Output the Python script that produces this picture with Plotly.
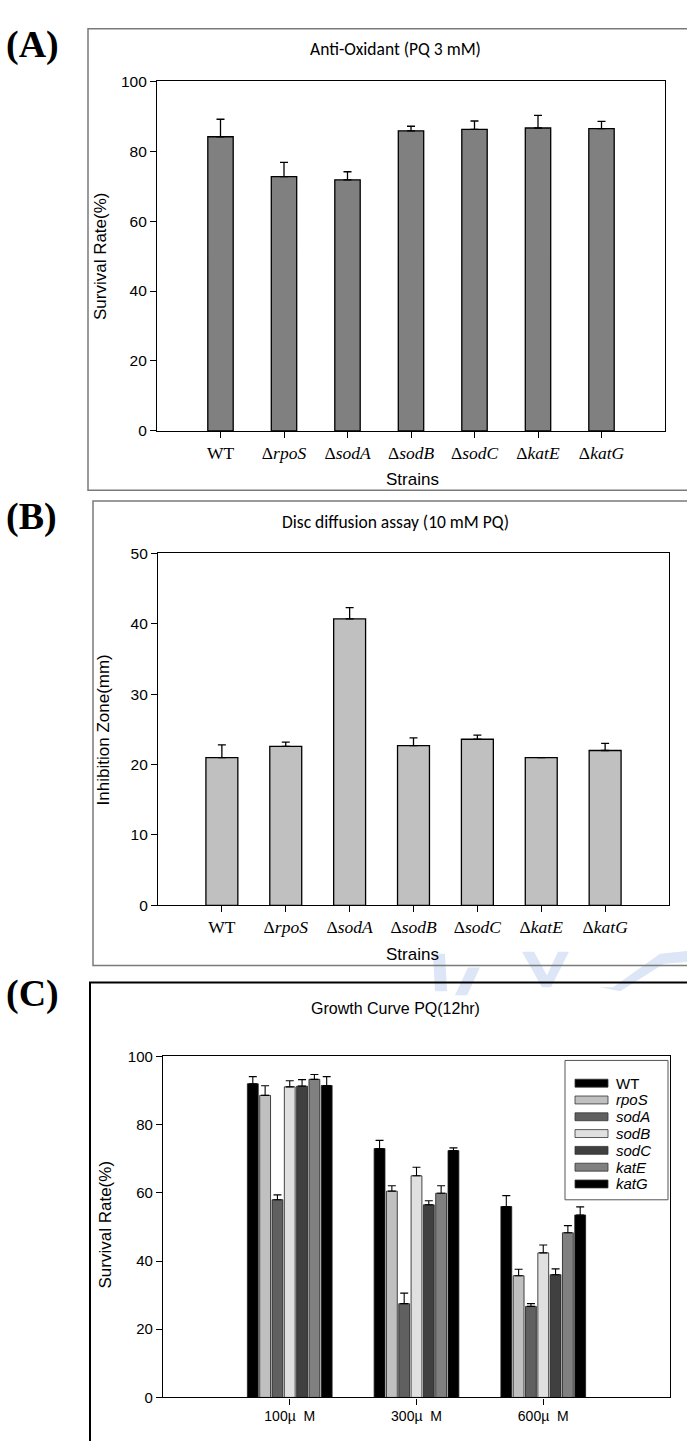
import plotly.graph_objects as go

W, H = 687, 1441

# ---- data ----
strains = ["WT", "rpoS", "sodA", "sodB", "sodC", "katE", "katG"]
strain_ticks = ["WT", "Δ<i>rpoS</i>", "Δ<i>sodA</i>", "Δ<i>sodB</i>",
                "Δ<i>sodC</i>", "Δ<i>katE</i>", "Δ<i>katG</i>"]

survival_pq3 = [84.1, 72.7, 71.8, 85.8, 86.2, 86.6, 86.4]
survival_pq3_err = [5.0, 4.1, 2.3, 1.3, 2.4, 3.6, 2.1]

zone_mm = [21.0, 22.6, 40.7, 22.7, 23.6, 21.0, 22.0]
zone_mm_err = [1.8, 0.6, 1.6, 1.1, 0.6, 0.0, 1.0]

doses = ["100µ\u00a0\u00a0M", "300µ\u00a0\u00a0M", "600µ\u00a0\u00a0M"]
growth_names = ["WT", "rpoS", "sodA", "sodB", "sodC", "katE", "katG"]
growth_mean = {
    "WT":   [92.0, 73.0, 56.0],
    "rpoS": [88.6, 60.5, 35.7],
    "sodA": [58.0, 27.5, 26.7],
    "sodB": [91.1, 65.0, 42.4],
    "sodC": [91.3, 56.5, 36.0],
    "katE": [93.3, 59.9, 48.3],
    "katG": [91.5, 72.4, 53.5],
}
growth_err = {
    "WT":   [2.1, 2.4, 3.2],
    "rpoS": [2.8, 1.6, 1.9],
    "sodA": [1.4, 3.1, 0.8],
    "sodB": [1.8, 2.5, 2.3],
    "sodC": [1.9, 1.2, 1.7],
    "katE": [1.4, 2.2, 2.1],
    "katG": [2.6, 0.8, 2.4],
}
growth_colors = ["#000000", "#c0c0c0", "#606060", "#e0e0e0",
                 "#404040", "#808080", "#000000"]


def px(x):
    return x / W


def py(y):
    return 1 - y / H


ARIAL = "Liberation Sans, Arial"
TIMES = "Liberation Serif, Times New Roman"
TITLE = "Carlito, Lato"

fig = go.Figure()

# (A) survival under 3 mM paraquat
fig.add_trace(go.Bar(
    x=strains, y=survival_pq3, xaxis="x", yaxis="y", width=0.4,
    marker=dict(color="#808080", line=dict(color="#000000", width=1.3)),
    error_y=dict(type="data", array=survival_pq3_err, arrayminus=[0] * 7,
                 symmetric=False, color="#000000", thickness=1.3, width=4),
    showlegend=False,
))

# (B) disc diffusion inhibition zones
fig.add_trace(go.Bar(
    x=strains, y=zone_mm, xaxis="x2", yaxis="y2", width=0.5,
    marker=dict(color="#c0c0c0", line=dict(color="#000000", width=1.3)),
    error_y=dict(type="data", array=zone_mm_err, arrayminus=[0] * 7,
                 symmetric=False, color="#000000", thickness=1.3, width=4),
    showlegend=False,
))

# (C) grouped growth-curve survival
for name, col in zip(growth_names, growth_colors):
    fig.add_trace(go.Bar(
        x=doses, y=growth_mean[name], name=name, xaxis="x3", yaxis="y3",
        marker=dict(color=col, line=dict(color="#1a1a1a", width=0.8)),
        error_y=dict(type="data", array=growth_err[name], arrayminus=[0] * 3,
                     symmetric=False, color="#000000", thickness=1.1, width=4),
        showlegend=False,
    ))

axis_common = dict(showline=True, linecolor="#000000", linewidth=1.2,
                   mirror=True, showgrid=False, zeroline=False,
                   ticks="outside", tickcolor="#000000", ticklen=6,
                   tickwidth=1.2)

fig.update_layout(
    width=W, height=H,
    margin=dict(l=0, r=0, t=0, b=0),
    paper_bgcolor="white", plot_bgcolor="white",
    barmode="group", bargap=0.32, bargroupgap=0.12,
    xaxis=dict(domain=[px(157), px(665)], anchor="y", range=[-1, 7.0],
               tickvals=strains, ticktext=strain_ticks,
               tickfont=dict(family=TIMES, size=17.5, color="#000"),
               **axis_common),
    yaxis=dict(domain=[py(427), py(73)], anchor="x", range=[0, 100],
               tickvals=[0, 20, 40, 60, 80, 100],
               tickfont=dict(family=ARIAL, size=15.5, color="#000"),
               **axis_common),
    xaxis2=dict(domain=[px(158), px(669)], anchor="y2", range=[-1, 7.0],
                tickvals=strains, ticktext=strain_ticks,
                tickfont=dict(family=TIMES, size=17.5, color="#000"),
                **axis_common),
    yaxis2=dict(domain=[py(907), py(551)], anchor="x2", range=[0, 50],
                tickvals=[0, 10, 20, 30, 40, 50],
                tickfont=dict(family=ARIAL, size=15.5, color="#000"),
                **axis_common),
    xaxis3=dict(domain=[px(163), px(670)], anchor="y3", range=[-1, 3.0],
                tickfont=dict(family=ARIAL, size=14, color="#000"),
                **axis_common),
    yaxis3=dict(domain=[py(1405), py(1060)], anchor="x3", range=[0, 100],
                tickvals=[0, 20, 40, 60, 80, 100],
                tickfont=dict(family=ARIAL, size=15, color="#000"),
                **axis_common),
)

shapes = []

# faint background watermark strokes between panels B and C
wm = "#dce6f6"
watermark_paths = [
    [(433, 956), (445, 956), (447, 994), (435, 994)],
    [(455, 998), (467, 998), (480, 970), (468, 970)],
    [(522, 954), (534, 954), (547, 978), (558, 954), (569, 954), (551, 990), (542, 990)],
    [(600, 990), (613, 990), (660, 956), (690, 953), (690, 964), (664, 966), (620, 994)],
]
for pts in watermark_paths:
    d = "M " + " L ".join("%.4f,%.4f" % (px(x), py(y)) for x, y in pts) + " Z"
    shapes.append(dict(type="path", xref="paper", yref="paper", path=d,
                       fillcolor=wm, line=dict(width=0), layer="below"))

# panel frames
shapes.append(dict(type="rect", xref="paper", yref="paper",
                   x0=px(88), x1=px(700), y0=py(487), y1=py(20),
                   line=dict(color="#7a7a7a", width=1.5)))
shapes.append(dict(type="rect", xref="paper", yref="paper",
                   x0=px(93), x1=px(700), y0=py(968), y1=py(498),
                   line=dict(color="#7a7a7a", width=1.5)))
shapes.append(dict(type="rect", xref="paper", yref="paper",
                   x0=px(90), x1=px(700), y0=py(1460), y1=py(985),
                   line=dict(color="#000000", width=2)))

# legend for panel C
shapes.append(dict(type="rect", xref="paper", yref="paper",
                   x0=px(565), x1=px(668), y0=py(1205), y1=py(1064),
                   line=dict(color="#555555", width=1), fillcolor="white"))
annotations = []
for i, (name, col) in enumerate(zip(growth_names, growth_colors)):
    yc = 1087 + 17 * i
    shapes.append(dict(type="rect", xref="paper", yref="paper",
                       x0=px(575), x1=px(608), y0=py(yc + 4), y1=py(yc - 4),
                       line=dict(color="#333333", width=0.8), fillcolor=col))
    label = name if name == "WT" else "<i>%s</i>" % name
    annotations.append(dict(x=px(614), y=py(yc), xref="paper", yref="paper",
                            text=label, showarrow=False, xanchor="left",
                            yanchor="middle",
                            font=dict(family=ARIAL, size=15, color="#000")))


def note(text, x, y, size, family, angle=0, xanchor="center"):
    annotations.append(dict(x=px(x), y=py(y), xref="paper", yref="paper",
                            text=text, showarrow=False, textangle=angle,
                            xanchor=xanchor, yanchor="middle",
                            font=dict(family=family, size=size, color="#000")))


# panel letters
for lab, y in [("(A)", 36), ("(B)", 514), ("(C)", 996)]:
    note("<b>%s</b>" % lab, 4, y, 38, TIMES, xanchor="left")

# panel titles
note("Anti-Oxidant (PQ 3 mM)", 395, 40, 17.5, TITLE)
note("Disc diffusion assay (10 mM PQ)", 395, 519, 17.5, TITLE)
note("Growth Curve PQ(12hr)", 395, 1011, 16, ARIAL)

# axis titles
note("Survival Rate(%)", 100, 250, 17, ARIAL, angle=-90)
note("Inhibition Zone(mm)", 103, 730, 17, ARIAL, angle=-90)
note("Survival Rate(%)", 105, 1230, 17, ARIAL, angle=-90)
note("Strains", 412, 476, 17, ARIAL)
note("Strains", 412, 957, 17, ARIAL)

fig.update_layout(shapes=shapes, annotations=annotations)
fig.write_html("out.html")
